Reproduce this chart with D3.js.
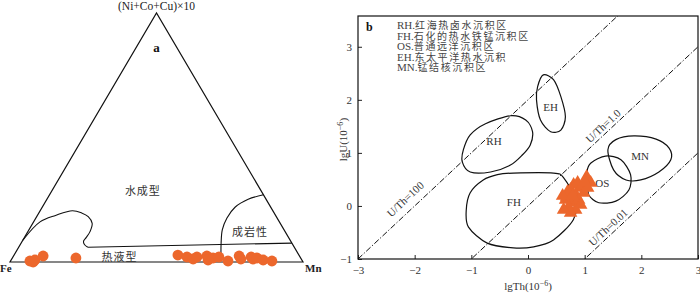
<!DOCTYPE html>
<html><head><meta charset="utf-8">
<script src="https://cdn.jsdelivr.net/npm/d3@7/dist/d3.min.js"></script>
<style>
html,body{margin:0;padding:0;background:#fff;}
svg{display:block;}
text{font-family:"Liberation Serif","DejaVu Serif",serif;}
.cjk{font-family:"Noto Sans CJK SC",sans-serif;}
</style></head>
<body>
<svg id="c" width="700" height="293"></svg>
<script>
// ---------- Panel a: ternary (Fe – Mn – (Ni+Co+Cu)×10), values in % ----------
const ternaryApexLabels = ["Fe", "Mn", "(Ni+Co+Cu)×10"];
const dotMn  = [6.6, 7.9, 8.1, 10.1, 21.7, 55.9, 59.4, 61.9, 62.8, 66.0, 67.2, 68.5, 70.3, 74.2, 77.0, 78.2, 81.3, 82.3, 83.5, 86.0, 89.2];
const dotTop = [0.4, 0.0, 0.8, 2.4, 1.6, 2.8, 2.0, 1.2, 2.0, 2.4, 0.8, 1.6, 2.0, 0.4, 2.4, 1.2, 2.0, 1.2, 1.6, 0.8, 0.4];
// hydrothermal boundary (curved part, then straight part), [Mn%, top%]
const hydroCurve = [[0,8.8],[2.2,16.1],[6.2,18.7],[11,20.6],[14.6,19.7],[17.6,18.2],[20.3,15.5],[21.2,12.2],[21.1,9.9],[20.9,8.4],[21.9,7.0],[23.6,5.9]];
const hydroLine  = [[23.6,5.9],[92.4,7.6]];
// diagenetic boundary, [Mn%, top%]
const diageCurve = [[73.0,27.0],[68.7,25.2],[65.8,22.0],[65.2,17.6],[66.0,12.9],[68.3,7.5],[70.6,2.8]];
const fieldLabelsA = [
  {t:"水成型", mn:31.3, top:28.1},
  {t:"成岩性", mn:76.1, top:11.6},
  {t:"热液型", mn:36.5, top:1.8}
];

// ---------- Panel b: lgU vs lgTh ----------
const xTicks = [-3,-2,-1,0,1,2,3];
const yTicks = [-1,0,1,2,3];
const ratioLines = [{k:2, label:"U/Th=100", lx:-2.15, ly:0.11},
                    {k:0, label:"U/Th=1.0", lx:1.34, ly:1.49},
                    {k:-2, label:"U/Th=0.01", lx:1.43, ly:-0.42}];
const fieldRH = [[-1.14,1.06],[-1.02,1.34],[-0.75,1.55],[-0.31,1.70],[-0.04,1.62],[0.08,1.40],[0.04,1.15],[-0.10,0.96],[-0.31,0.77],[-0.66,0.64],[-1.02,0.64],[-1.16,0.83]];
const fieldFH = [[-0.26,0.62],[0.45,0.62],[0.63,0.53],[0.84,0.11],[0.80,-0.26],[0.45,-0.64],[0.10,-0.77],[-0.26,-0.79],[-0.72,-0.70],[-1.05,-0.40],[-1.09,-0.08],[-1.02,0.25],[-0.79,0.49],[-0.54,0.59]];
const fieldOS = [[1.11,0.81],[1.37,0.94],[1.64,0.87],[1.81,0.59],[1.78,0.30],[1.55,0.09],[1.25,0.06],[1.07,0.21],[1.07,0.43],[1.04,0.64]];
const fieldEH = [[0.27,2.47],[0.17,2.25],[0.15,2.00],[0.22,1.62],[0.40,1.40],[0.58,1.43],[0.66,1.68],[0.58,2.06],[0.45,2.38]];
const fieldMN = [[1.41,1.06],[1.55,1.25],[1.87,1.32],[2.26,1.26],[2.49,1.09],[2.52,0.87],[2.31,0.64],[1.99,0.49],[1.73,0.49],[1.51,0.68]];
const fieldNames = ["RH","FH","OS","EH","MN"];
const fieldLabelPos = [[-0.60,1.20],[-0.25,0.05],[1.31,0.40],[0.40,1.84],[1.98,0.92]];
const triTh = [1.035,1.106,0.805,0.929,0.699,0.841,0.664,0.788,0.717,0.841,0.752,0.681,0.894,0.982,1.053,0.876,0.752,0.611,0.929,0.628,1.0,0.788];
const triU  = [0.547,0.434,0.396,0.340,0.264,0.208,0.113,0.075,-0.019,-0.075,-0.132,0.170,0.113,0.245,0.340,0.434,0.302,0.189,0.019,-0.075,0.45,0.189];
const legendCodes = ["RH.","FH.","OS.","EH.","MN."];
const legendNames = ["红海热卤水沉积区","石化的热水铁锰沉积区","普通远洋沉积区","东太平洋热水沉积","锰结核沉积区"];

const orange = "#ec672c";
const svg = d3.select("#c");

// ===== Panel a =====
const tx = d3.scaleLinear().domain([0,100]).range([10,303]);
const ty = d3.scaleLinear().domain([0,100]).range([262,13]);
const proj = (mn, top) => [tx(mn + top/2), ty(top)];
const ga = svg.append("g");
const tri = [proj(0,0), proj(100,0), proj(0,100)];
ga.append("path").attr("d", d3.line()(tri) + "Z")
  .attr("fill","none").attr("stroke","#111").attr("stroke-width",1.2);
const tl = () => d3.line().x(d=>proj(d[0],d[1])[0]).y(d=>proj(d[0],d[1])[1]);
ga.append("path").attr("d", tl().curve(d3.curveCatmullRom)(hydroCurve))
  .attr("fill","none").attr("stroke","#111").attr("stroke-width",1.1);
ga.append("path").attr("d", tl()(hydroLine))
  .attr("fill","none").attr("stroke","#111").attr("stroke-width",1.1);
ga.append("path").attr("d", tl().curve(d3.curveCatmullRom)(diageCurve))
  .attr("fill","none").attr("stroke","#111").attr("stroke-width",1.1);
ga.selectAll("text.fl").data(fieldLabelsA).join("text").attr("class","cjk")
  .attr("x", d=>proj(d.mn,d.top)[0]).attr("y", d=>proj(d.mn,d.top)[1])
  .attr("text-anchor","middle").attr("dominant-baseline","middle")
  .attr("font-size",11).attr("letter-spacing",1).attr("fill","#333").text(d=>d.t);
ga.selectAll("circle").data(dotMn).join("circle")
  .attr("cx",(d,i)=>proj(d,dotTop[i])[0]).attr("cy",(d,i)=>proj(d,dotTop[i])[1])
  .attr("r",5.4).attr("fill",orange);
ga.append("text").attr("x",tri[0][0]-10).attr("y",tri[0][1]+10).attr("font-size",11).attr("font-weight","bold").attr("fill","#222").text(ternaryApexLabels[0]);
ga.append("text").attr("x",tri[1][0]+2).attr("y",tri[1][1]+10).attr("font-size",11).attr("font-weight","bold").attr("fill","#222").text(ternaryApexLabels[1]);
ga.append("text").attr("x",tri[2][0]).attr("y",tri[2][1]-3).attr("text-anchor","middle").attr("font-size",11.5).attr("fill","#222").text(ternaryApexLabels[2]);
ga.append("text").attr("x",tri[2][0]).attr("y",52).attr("text-anchor","middle").attr("font-size",13).attr("font-weight","bold").attr("fill","#111").text("a");

// ===== Panel b =====
const x = d3.scaleLinear().domain([-3,3]).range([358,698]);
const y = d3.scaleLinear().domain([-1,3.58]).range([259,16]);
const gb = svg.append("g");
gb.append("clipPath").attr("id","clipb").append("rect")
  .attr("x",x(-3)).attr("y",y(3.58)).attr("width",x(3)-x(-3)).attr("height",y(-1)-y(3.58));
const fmt = d=>d<0?"\u2212"+Math.abs(d):d;
const xAxis = d3.axisBottom(x).tickValues(xTicks).tickSizeInner(-4).tickSizeOuter(0).tickPadding(7).tickFormat(fmt);
const yAxis = d3.axisLeft(y).tickValues(yTicks).tickSizeInner(-4).tickSizeOuter(0).tickPadding(6).tickFormat(fmt);
const gx = gb.append("g").attr("transform",`translate(0,${y(-1)})`).call(xAxis);
const gy = gb.append("g").attr("transform",`translate(${x(-3)},0)`).call(yAxis);
[gx,gy].forEach(g=>{g.select(".domain").remove();
  g.selectAll("text").attr("font-family","Liberation Serif, serif").attr("font-size",11).attr("fill","#333");
  g.selectAll("line").attr("stroke","#222");});
gb.append("rect").attr("x",x(-3)).attr("y",y(3.58)).attr("width",x(3)-x(-3)).attr("height",y(-1)-y(3.58))
  .attr("fill","none").attr("stroke","#111").attr("stroke-width",1.2);
const angle = -Math.atan2(y(0)-y(1), x(1)-x(0))*180/Math.PI;
ratioLines.forEach(r=>{
  gb.append("line").attr("clip-path","url(#clipb)")
    .attr("x1",x(-3)).attr("y1",y(-3+r.k)).attr("x2",x(3)).attr("y2",y(3+r.k))
    .attr("stroke","#111").attr("stroke-width",1).attr("stroke-dasharray","6,2,1.2,2");
  gb.append("text").attr("transform",`translate(${x(r.lx)},${y(r.ly)}) rotate(${angle})`)
    .attr("text-anchor","middle").attr("dominant-baseline","middle")
    .attr("font-size",11).attr("fill","#333").text(r.label);
});
const bline = d3.line().curve(d3.curveCardinalClosed.tension(0.1)).x(d=>x(d[0])).y(d=>y(d[1]));
[fieldRH, fieldFH, fieldOS, fieldEH, fieldMN].forEach(f=>{
  gb.append("path").attr("d",bline(f)).attr("fill","none").attr("stroke","#111").attr("stroke-width",1.2);
});
fieldNames.forEach((n,i)=>{
  gb.append("text").attr("x",x(fieldLabelPos[i][0])).attr("y",y(fieldLabelPos[i][1]))
    .attr("text-anchor","middle").attr("dominant-baseline","middle")
    .attr("font-size",11).attr("fill","#333").text(n);
});
const sym = d3.symbol().type(d3.symbolTriangle).size(80);
gb.selectAll("path.tri").data(triTh).join("path").attr("class","tri")
  .attr("transform",(d,i)=>`translate(${x(d)},${y(triU[i])})`)
  .attr("d",sym).attr("fill",orange);
// legend
legendCodes.forEach((c,i)=>{
  const t = gb.append("text").attr("x",397).attr("y",29+i*10.6).attr("font-size",11).attr("fill","#444");
  t.append("tspan").text(c);
  t.append("tspan").attr("font-family","Noto Sans CJK SC, sans-serif").attr("font-size",10).attr("letter-spacing",1.6).text(legendNames[i]);
});
gb.append("text").attr("x",366).attr("y",31).attr("font-size",12).attr("font-weight","bold").attr("fill","#111").text("b");
const xt = gb.append("text").attr("x",x(0)).attr("y",290).attr("text-anchor","middle").attr("font-size",11).attr("fill","#333");
xt.append("tspan").text("lgTh(10");
xt.append("tspan").attr("dy",-4).attr("font-size",8).text("\u22126");
xt.append("tspan").attr("dy",4).text(")");
const yt = gb.append("text").attr("transform",`translate(347,${y(1.25)}) rotate(-90)`).attr("text-anchor","middle").attr("font-size",11).attr("fill","#333");
yt.append("tspan").text("lgU(10");
yt.append("tspan").attr("dy",-4).attr("font-size",8).text("\u22126");
yt.append("tspan").attr("dy",4).text(")");
</script>
</body></html>
